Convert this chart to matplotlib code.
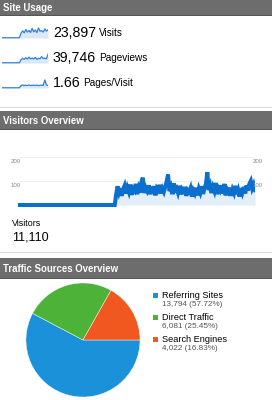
import matplotlib
matplotlib.use("Agg")
import matplotlib.pyplot as plt
from matplotlib.patches import Rectangle

plt.rcParams['font.family'] = ['Liberation Sans', 'DejaVu Sans']

W, H = 272, 400

# ---------------- data ----------------
usage_values = ["23,897", "39,746", "1.66"]
usage_labels = ["Visits", "Pageviews", "Pages/Visit"]

spark_visits = [2, 2, 2, 2, 2, 2, 2, 2, 2, 2, 2, 2,
                40, 58, 42, 70, 48, 62, 45, 78, 50, 66, 44, 82, 55, 60, 48, 74, 56, 68]
spark_pageviews = [2, 2, 2, 2, 2, 2, 2, 2, 2, 2, 2, 2,
                   28, 38, 30, 44, 32, 48, 34, 40, 33, 46, 30, 38, 35, 52, 36, 40, 34, 72]
spark_pages = [2, 2, 2, 2, 2, 2, 2, 2, 2, 2, 2, 2,
               20, 24, 21, 23, 20, 25, 21, 22, 23, 21, 24, 20, 22, 23, 21, 66, 24, 21]

visitors_flat = [0, 0, 0, 0, 0, 0, 0, 0, 0, 0, 0, 0, 0, 0, 0, 0, 0, 0, 0, 0,
                 0, 0, 0, 0, 0, 0, 0, 0, 0, 0, 0, 0, 0, 0, 0, 0, 0, 0, 0, 0,
                 0, 0, 0, 0, 0, 0, 0, 0, 0, 0, 0, 0, 0, 0, 0, 0, 0, 0, 0, 0,
                 0, 0, 0, 0, 0, 0, 0, 0, 0, 0]
visitors_active = [45, 78, 52, 70, 38, 65, 80, 48, 72, 55,
                   85, 42, 68, 60, 88, 45, 70, 52, 95, 114,
                   50, 72, 60, 82, 45, 66, 58, 78, 40, 70,
                   62, 84, 48, 68, 55, 76, 98, 127, 58, 74,
                   45, 90, 62, 70, 52, 80, 44, 66, 58, 75,
                   38, 62, 55, 70, 35, 60, 48, 72, 40, 68,
                   52, 78, 46, 70, 88, 136, 62, 80, 50, 74,
                   58, 92, 45, 70, 60, 82, 48, 88, 40, 66,
                   55, 72, 38, 64, 50, 80, 45, 62, 35, 70,
                   52, 75, 48, 82, 60, 88, 100, 70, 85, 62]
visitors = visitors_flat + visitors_active
visitor_ticks = [100, 200]
visitors_total = "11,110"

source_labels = ["Referring Sites", "Direct Traffic", "Search Engines"]
source_values = [13794, 6081, 4022]
source_colors = ["#1b91d9", "#4db238", "#f05820"]

# ---------------- helpers ----------------
fig = plt.figure(figsize=(W / 100, H / 100), dpi=100)
fig.patch.set_facecolor("white")


def fx(x):
    return x / W


def fy(y):
    return 1 - y / H


def add_ax(x0, y0, x1, y1):
    return fig.add_axes([fx(x0), fy(y1), fx(x1) - fx(x0), (y1 - y0) / H])


def header(y0, y1, text):
    fig.patches.append(Rectangle((fx(0), fy(y1)), 1, (y1 - y0) / H,
                                 transform=fig.transFigure, facecolor="#6d6d6d",
                                 edgecolor="none", zorder=0))
    fig.patches.append(Rectangle((fx(0), fy(y1)), 1, 1.2 / H,
                                 transform=fig.transFigure, facecolor="#555555",
                                 edgecolor="none", zorder=0))
    fig.text(fx(3), fy((y0 + y1) / 2), text, color="white", fontsize=6.9,
             fontweight="bold", va="center", ha="left")


def sep(y):
    fig.patches.append(Rectangle((0, fy(y)), 1, 1 / H, transform=fig.transFigure,
                                 facecolor="#dcdcdc", edgecolor="none"))


# ---------------- Site Usage ----------------
header(0, 16, "Site Usage")
spark_sets = [spark_visits, spark_pageviews, spark_pages]
base_ys = [38, 63, 88]
for data, val, lab, by in zip(spark_sets, usage_values, usage_labels, base_ys):
    ax = add_ax(2, by - 11, 48, by + 1)
    xs = list(range(len(data)))
    ax.fill_between(xs, data, 0, color="#dbe8f7", lw=0)
    ax.plot(xs, data, color="#2f7fd6", lw=0.9)
    ax.set_xlim(0, len(data) - 1)
    ax.set_ylim(-8, 90)
    ax.axis("off")
    t = fig.text(fx(53), fy(by - 5), val, fontsize=10.2, va="center", ha="left", color="black")
    fig.texts.append(matplotlib.text.Annotation(
        lab, xy=(1, 0.5), xycoords=t, xytext=(3, 0), textcoords="offset pixels",
        fontsize=7.2, va="center", ha="left", color="black"))
    fig.texts[-1].set_figure(fig)

sep(108)

# ---------------- Visitors Overview ----------------
header(111, 130, "Visitors Overview")
ax = add_ax(18, 150, 255, 210)
xs = list(range(len(visitors)))
ax.fill_between(xs, visitors, 0, color="#e3eefa", lw=0)
ax.plot(xs, visitors, color="#0b6fd0", lw=2.9, solid_joinstyle="miter")
ax.set_xlim(0, len(visitors) - 1)
ax.set_ylim(-20.8, 229.2)
ax.axis("off")
for tk in visitor_ticks:
    ax.axhline(tk, color="#f0f0f0", lw=0.6, zorder=0)
    ax.annotate(str(tk), xy=(0, tk), xycoords=("axes fraction", "data"),
                xytext=(-7, -4), textcoords="offset pixels", fontsize=4.4,
                color="#8a8a8a", ha="left", va="center")
    ax.annotate(str(tk), xy=(1, tk), xycoords=("axes fraction", "data"),
                xytext=(-2, -4), textcoords="offset pixels", fontsize=4.4,
                color="#8a8a8a", ha="left", va="center")

fig.text(fx(12), fy(223), "Visitors", fontsize=6.4, va="center", ha="left")
fig.text(fx(12), fy(237), visitors_total, fontsize=9, va="center", ha="left")

sep(253)

# ---------------- Traffic Sources Overview ----------------
header(258, 279, "Traffic Sources Overview")
pax = add_ax(83 - 58, 340 - 58, 83 + 58, 340 + 58)
pax.pie(source_values, colors=source_colors, startangle=0, counterclock=False,
        radius=1, wedgeprops=dict(edgecolor="white", linewidth=0.3))
pax.set_xlim(-1.017, 1.017)
pax.set_ylim(-1.017, 1.017)
pax.set_aspect("auto")

total = sum(source_values)
for i, (lab, v, c) in enumerate(zip(source_labels, source_values, source_colors)):
    yy = 295 + i * 22
    fig.patches.append(Rectangle((fx(153), fy(yy + 2.5)), 5 / W, 5 / H,
                                 transform=fig.transFigure, facecolor=c, edgecolor="none"))
    fig.text(fx(162), fy(yy), lab, fontsize=6.6, va="center", ha="left", color="black")
    fig.text(fx(162), fy(yy + 10), f"{v:,} ({v / total * 100:.2f}%)", fontsize=5.9,
             va="center", ha="left", color="#555555")

fig.savefig("out.png", dpi=100)
